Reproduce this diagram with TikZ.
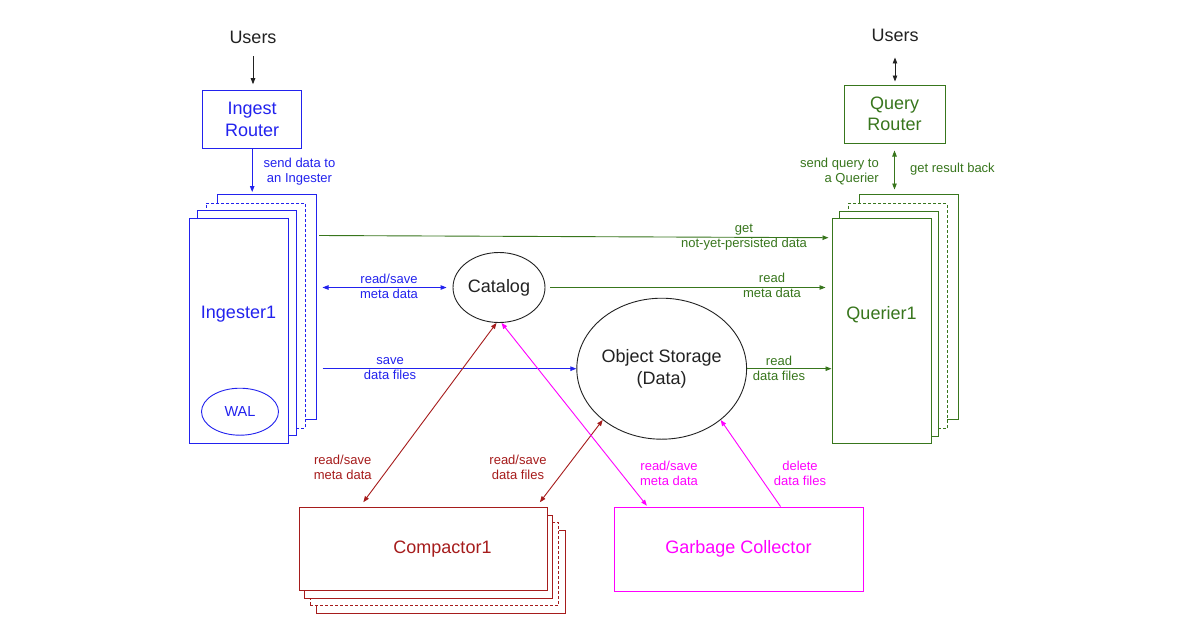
\documentclass[tikz,border=0pt]{standalone}
\usepackage{fontspec}
\setmainfont{Liberation Sans}
\usetikzlibrary{arrows.meta,shapes.geometric,calc}
\definecolor{cblue}{HTML}{2222EE}
\definecolor{cgreen}{HTML}{38761D}
\definecolor{cred}{HTML}{A61C1C}
\definecolor{cpink}{HTML}{FF00FF}
\definecolor{cgray}{HTML}{222222}
\begin{document}
\begin{tikzpicture}[x=1pt,y=-1pt,
  big/.style={font=\fontsize{18}{21.3}\selectfont, align=center},
  small/.style={font=\fontsize{13}{15}\selectfont, align=center, inner sep=0pt},
  card/.style={draw, fill=white, line width=1pt, inner sep=0pt},
  dashcard/.style={card, dash pattern=on 3pt off 2pt},
  tallcard/.style={minimum width=99pt, minimum height=225pt},
  widecard/.style={minimum width=248.5pt, minimum height=83pt},
  conn/.style={line width=0.9pt},
  >={Triangle[length=6pt,width=4.5pt]}
]
\useasboundingbox[fill=white] (0,0) rectangle (1200,630);

% ---------------- Ingester side ----------------
\node[big, cgray, inner sep=0pt] (uL) at (253,37) {Users};
\node[cblue, card, big, minimum width=99pt, minimum height=57.6pt] (ir) at (252.2,119.5) {Ingest\\Router};
\node[cblue, card, tallcard] (ing4) at (266.5,306.5) {};
\node[cblue, dashcard, tallcard] (ing3) at (255.5,315.5) {};
\node[cblue, card, tallcard] (ing2) at (246.5,322.5) {};
\node[cblue, card, tallcard] (ing) at (238.5,330.5) {};
\node[big, cblue] (ingl) at ([yshift=16pt]ing.center) {Ingester1};
\node[draw=cblue, text=cblue, ellipse, line width=0.9pt, minimum width=77pt, minimum height=47pt, inner sep=0pt,
      font=\fontsize{14.5}{16}\selectfont] (wal) at (240,411.7) {WAL};

% ---------------- Querier side ----------------
\node[big, cgray, inner sep=0pt] (uR) at (895,35) {Users};
\node[cgreen, card, big, minimum width=101pt, minimum height=58pt] (qrt) at (894.5,114) {Query\\Router};
\node[cgreen, card, tallcard] (q4) at (908.5,306.5) {};
\node[cgreen, dashcard, tallcard] (q3) at (897.5,316) {};
\node[cgreen, card, tallcard] (q2) at (888.5,323.5) {};
\node[cgreen, card, tallcard] (q) at (881.5,330.5) {};
\node[big, cgreen] (ql) at ([yshift=16pt]q.center) {Querier1};

% ---------------- Middle ----------------
\node[draw=cgray, text=cgray, ellipse, line width=0.9pt, minimum width=92pt, minimum height=70pt, inner sep=0pt, big] (cat) at (499,287.5) {Catalog};
\node[draw=cgray, text=cgray, ellipse, line width=0.9pt, minimum width=162pt, minimum height=141pt, inner sep=0pt, big] (obj) at (661.7,368.7) {Object Storage\\(Data)};

% ---------------- Bottom ----------------
\node[cred, card, widecard] (comp4) at (441,572) {};
\node[cred, dashcard, widecard] (comp3) at (434.5,563.5) {};
\node[cred, card, widecard] (comp2) at (428.5,556.5) {};
\node[cred, card, widecard] (comp) at (423.5,549) {};
\node[big, cred] (compl) at ([xshift=19pt]comp.center) {Compactor1};
\node[cpink, card, big, minimum width=249pt, minimum height=84pt] (gc) at (738.5,549) {Garbage Collector};

% ---------------- Connectors ----------------
\draw[conn, cgray, ->, shorten <=13pt, shorten >=6pt] (uL.south) -- (uL.south |- ir.north);
\draw[conn, cgray, <->, shorten <=16pt, shorten >=3pt] (uR.south) -- (uR.south |- qrt.north);
\draw[conn, cblue, ->, shorten >=1.5pt] (ir.south) -- (ir.south |- ing4.north);
\draw[conn, cgreen, <->, shorten <=7pt, shorten >=4pt] (qrt.south) -- (qrt.south |- q4.north);

\coordinate (gA) at (319,235.5);
\coordinate (gB) at (828.5,237.7);
\draw[conn, cgreen, ->] (gA) -- (gB);
\draw[conn, cblue, <->, shorten <=6pt, shorten >=6pt] (ing4.east |- cat.west) -- (cat.west);
\draw[conn, cgreen, ->, shorten <=5pt, shorten >=6pt] (cat.east) -- (cat.east -| q.west);
\draw[conn, cblue, ->, shorten <=6pt] (ing4.east |- obj.west) -- (obj.west);
\draw[conn, cgreen, ->] (obj.east) -- (obj.east -| q.west);

\draw[conn, cred, <->, shorten >=6pt] (cat.266) -- ($(comp.north west)+(61,0)$);
\draw[conn, cred, <->, shorten >=6pt] (obj.221) -- ($(comp.north west)+(237.5,0)$);
\draw[conn, cpink, <->, shorten >=1pt] (cat.274) -- ($(gc.north west)+(34,0)$);
\draw[conn, cpink, ->] ($(gc.north west)+(167,0)$) -- (obj.319);

% ---------------- Labels ----------------
\node[small, cblue] (l1) at (299.5,171.5) {send data to\\an Ingester};
\node[small, cgreen, anchor=east, align=right] (l2) at (879,171.5) {send query to\\a Querier};
\node[small, cgreen, anchor=west] (l3) at (910,169) {get result back};
\node[small, cgreen] (l4) at (744,236.7) {get\\not-yet-persisted data};
\node[small, cblue] (l5) at (389,286.5) {read/save\\meta data};
\node[small, cgreen] (l6) at (772,285.5) {read\\meta data};
\node[small, cblue] (l7) at (390,368.5) {save\\data files};
\node[small, cgreen] (l8) at (779,368) {read\\data files};
\node[small, cred] (l9) at (342.7,467.5) {read/save\\meta data};
\node[small, cred] (l10) at (518,467.5) {read/save\\data files};
\node[small, cpink] (l11) at (669,473.5) {read/save\\meta data};
\node[small, cpink] (l12) at (800,473.5) {delete\\data files};
\end{tikzpicture}
\end{document}
